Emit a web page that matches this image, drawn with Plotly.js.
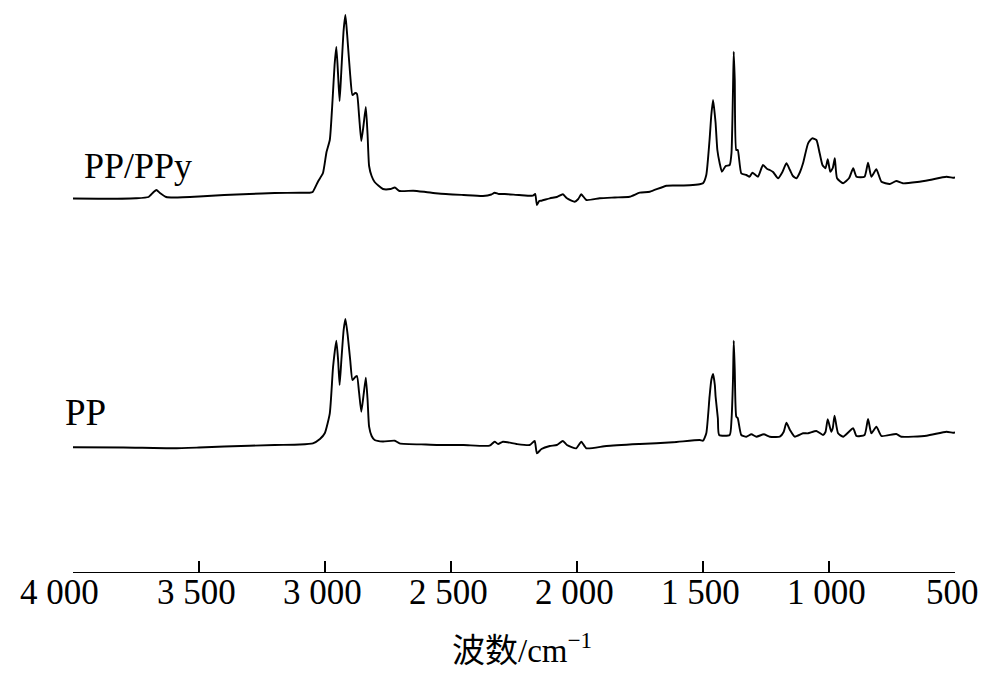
<!DOCTYPE html>
<html>
<head>
<meta charset="utf-8">
<script src="https://cdn.plot.ly/plotly-3.0.1.min.js"></script>
<style>html,body{margin:0;padding:0;background:#fff;}#chart{width:1000px;height:682px;}</style>
</head>
<body>
<div id="chart"></div>
<script>
// Wavenumbers (cm^-1) and intensities (arbitrary units)
const wnPPy = [4000,3900,3750,3700,3680,3669,3655,3630,3600,3500,3400,3300,3200,3100,3061,3049,3028,3008,2994,2981,2970,2962,2955,2948,2942,2935,2926,2919,2912,2900,2891,2880,2873,2865,2856,2847,2838,2831,2825,2815,2803,2770,2740,2723,2704,2650,2600,2550,2450,2373,2340,2327,2310,2287,2230,2175,2166,2159,2150,2141,2108,2080,2056,2040,2009,1995,1983,1963,1910,1850,1791,1751,1711,1645,1600,1553,1513,1500,1487,1474,1467,1460,1453,1450,1443,1434,1425,1410,1394,1387,1381,1378,1374,1368,1362,1348,1328,1315,1304,1282,1262,1245,1235,1222,1202,1185,1169,1155,1143,1129,1115,1103,1083,1067,1050,1037,1026,1014,1005,995,985,977,968,944,920,904,891,859,845,832,812,792,759,733,707,650,601,534,508,500];
const valPPy = [373.5,373.2,373.7,375,380,382,379,375,374.5,375.5,377,378,379,379.2,379.3,380,390.3,399,420,432,472,507,525,497,471,502,542,557,537,497,477,479,478,457,431,447,465,437,406,396,390,383,383,384.5,381,381.3,380,378.5,377,376,377.5,379.3,378,378,377,376.3,378,367,371,371.3,373.7,375,377.7,373.7,370.3,373,377.7,372,373.7,374.5,375.3,379.3,380.3,386.3,386.5,386.7,387.7,388.7,397,432,457,472,457,449,422,409,400.3,406,407,419,482,520.3,492,422,422,398.7,397,395.3,399.3,395.3,407,403,402,400,393.7,400,408.7,402,396,393.7,400,408.7,428.7,433.7,432,418.7,407,403.7,412.7,400.3,404,413.7,393.7,388.7,394,403.7,395.3,395.3,409.3,395.3,402.7,390.3,388,391,388.7,390,392,395.3,394.3,394.5];

const wnPP = [4000,3800,3600,3500,3400,3200,3100,3048,3020,3001,2981,2968,2955,2948,2942,2935,2926,2919,2910,2900,2891,2880,2873,2865,2856,2847,2838,2831,2825,2815,2803,2770,2723,2704,2600,2550,2450,2347,2327,2313,2294,2240,2188,2168,2159,2141,2108,2080,2056,2040,2003,1983,1963,1883,1751,1619,1513,1500,1487,1474,1467,1460,1453,1450,1441,1436,1394,1387,1381,1378,1374,1368,1362,1348,1328,1308,1288,1259,1235,1195,1180,1169,1155,1136,1103,1083,1050,1024,1014,1005,991,985,978,964,944,904,891,859,845,832,812,792,733,713,613,534,508,500];
const valPP = [124.7,124.5,123.7,124.5,125.5,127,127.5,128.7,133,138.7,158.7,205,231.3,212,187,212,242,253,237,212,192,195,196,180,160.3,177,194.3,172,145.3,136,132,130.5,131.3,128.7,127.5,127,127,126.3,130.3,128,130.3,128,127,131,118.7,123,126,127,131,127,123.7,130.3,123.7,126,128,129.7,132,131.3,138.7,175.3,192,198,187,175.3,153.7,137,137,152,192,231.3,202,155.3,153.7,137,135.3,137.7,135.3,137.7,135.3,135.3,140,149.3,142,135.3,138.7,138.7,141,137,140,152.7,140.3,144,156.3,138.7,135.3,143.7,136,137,153,138.7,145.3,136,138,135.3,136.3,140.3,139.3,139.5];

const tickVals = [4000,3500,3000,2500,2000,1500,1000,500];
const tickText = ['4 000','3 500','3 000','2 500','2 000','1 500','1 000','500'];
const seriesNames = ['PP/PPy','PP'];
const axisTitle = '波数/cm<sup>−1</sup>';

const serif = 'Times New Roman, Noto Sans CJK SC';
const lineStyle = {color:'#000', width:1.9, shape:'spline', smoothing:0.5};

const traces = [
  {x: wnPPy, y: valPPy, type:'scatter', mode:'lines', name: seriesNames[0], line: lineStyle, hoverinfo:'skip'},
  {x: wnPP, y: valPP, type:'scatter', mode:'lines', name: seriesNames[1], line: lineStyle, hoverinfo:'skip'}
];

const annotations = [
  {x:3743, y:406, xref:'x', yref:'y', text:seriesNames[0], showarrow:false,
   font:{family:serif, size:36, color:'#000'}},
  {x:3950, y:160, xref:'x', yref:'y', text:seriesNames[1], showarrow:false,
   font:{family:serif, size:37, color:'#000'}},
  {x:0.5, y:0, xref:'paper', yref:'paper', text:axisTitle, showarrow:false,
   xanchor:'center', yanchor:'middle', xshift:8, yshift:-76,
   font:{family:serif, size:33, color:'#000'}}
];
tickVals.forEach((v, i) => {
  annotations.push({x:v, y:0, xref:'x', yref:'paper', text:tickText[i], showarrow:false,
    xanchor:'center', yanchor:'middle', yshift:-20, xshift:(i === 0 ? -14 : -3),
    font:{family:serif, size:35, color:'#000'}});
});

const layout = {
  width:1000, height:682,
  margin:{l:73, r:45, t:0, b:110},
  paper_bgcolor:'#fff', plot_bgcolor:'#fff',
  showlegend:false,
  font:{family:serif, color:'#000'},
  xaxis:{
    range:[4000,500],
    showline:true, linecolor:'#000', linewidth:1.3,
    showgrid:false, zeroline:false,
    ticks:'inside', ticklen:11, tickcolor:'#000', tickwidth:1.2,
    tickmode:'array', tickvals:tickVals, showticklabels:false
  },
  yaxis:{range:[0,572], visible:false, showgrid:false, zeroline:false},
  annotations: annotations
};

Plotly.newPlot('chart', traces, layout, {staticPlot:true, displayModeBar:false});
</script>
</body>
</html>
